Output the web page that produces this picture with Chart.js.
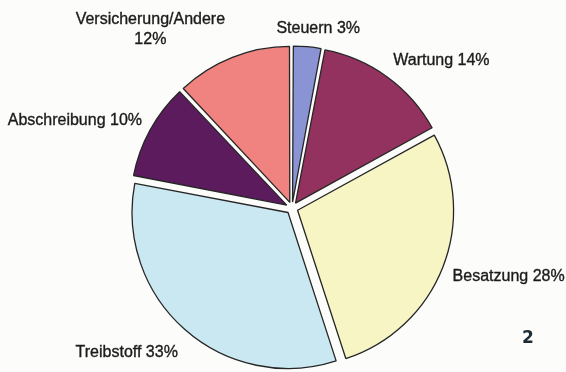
<!DOCTYPE html>
<html>
<head>
<meta charset="utf-8">
<script src="https://cdn.jsdelivr.net/npm/chart.js@4"></script>
<style>
  html, body { margin: 0; padding: 0; background: #fcfcfb; }
  #wrap { width: 566px; height: 372px; position: relative; }
</style>
</head>
<body>
<div id="wrap"><canvas id="c" width="566" height="372"></canvas></div>
<script>
// Cost shares, clockwise from 12 o'clock
const categories = ['Steuern', 'Wartung', 'Besatzung', 'Treibstoff', 'Abschreibung', 'Versicherung/Andere'];
const shares = [3, 14, 28, 33, 10, 12];
const labelLines = [
  ['Steuern 3%'],
  ['Wartung 14%'],
  ['Besatzung 28%'],
  ['Treibstoff 33%'],
  ['Abschreibung 10%'],
  ['Versicherung/Andere', '12%']
];
const sliceColors = ['#8a93d3', '#93325f', '#f8f5c5', '#c9e8f1', '#5b1b5d', '#f08380'];
const figureNumber = '2';

// Label placement relative to the outer midpoint of each slice
const labelPlacement = [
  { align: 'center', dx: 11, dy: -14 },
  { align: 'left', dx: 6, dy: -12 },
  { align: 'left', dx: 10, dy: 13 },
  { align: 'right', dx: -7, dy: 27 },
  { align: 'right', dx: -8, dy: -5 },
  { align: 'center', dx: -82, dy: -33 }
];

// Chart.js grows small exploded arcs by offset*(1-sin(circumference)); keep every slice on the same circle
const equalRadius = {
  id: 'equalRadius',
  afterUpdate(chart) {
    const meta = chart.getDatasetMeta(0);
    meta.data.forEach(arc => {
      const off = (arc.options.offset || 0) / 4;
      const fix = 1 - Math.sin(Math.min(Math.PI, arc.circumference));
      arc.outerRadius = meta.controller.outerRadius - off * fix;
    });
  }
};

const sliceLabels = {
  id: 'sliceLabels',
  afterDatasetsDraw(chart) {
    const ctx = chart.ctx;
    const meta = chart.getDatasetMeta(0);
    const R = meta.controller.outerRadius;
    ctx.save();
    ctx.fillStyle = '#1b1b1b';
    ctx.strokeStyle = '#1b1b1b';
    ctx.lineWidth = 0.35;
    ctx.font = '16px "Liberation Sans", Arial, sans-serif';
    ctx.textBaseline = 'alphabetic';
    meta.data.forEach((arc, i) => {
      const mid = (arc.startAngle + arc.endAngle) / 2;
      const shift = (arc.options.offset || 0) / 4;
      const ax = arc.x + Math.cos(mid) * (R + shift);
      const ay = arc.y + Math.sin(mid) * (R + shift);
      const p = labelPlacement[i];
      ctx.textAlign = p.align;
      labelLines[i].forEach((line, k) => {
        const x = ax + p.dx, y = ay + p.dy + k * 20;
        ctx.fillText(line, x, y);
        ctx.strokeText(line, x, y);
      });
    });
    // figure number
    ctx.font = 'bold 17px "DejaVu Sans", sans-serif';
    ctx.fillStyle = '#1c2b33';
    ctx.textAlign = 'center';
    ctx.fillText(figureNumber, chart.width - 38, chart.height - 29);
    ctx.restore();
  }
};

new Chart(document.getElementById('c'), {
  type: 'pie',
  data: {
    labels: categories,
    datasets: [{
      data: shares,
      backgroundColor: sliceColors,
      borderColor: '#262626',
      borderWidth: 1.3,
      offset: 24,
      clip: false
    }]
  },
  options: {
    responsive: false,
    animation: false,
    events: [],
    radius: 156,
    layout: { padding: { left: 18, right: 0, top: 44, bottom: 0 } },
    plugins: {
      legend: { display: false },
      tooltip: { enabled: false },
      title: { display: false }
    }
  },
  plugins: [equalRadius, sliceLabels]
});
</script>
</body>
</html>
